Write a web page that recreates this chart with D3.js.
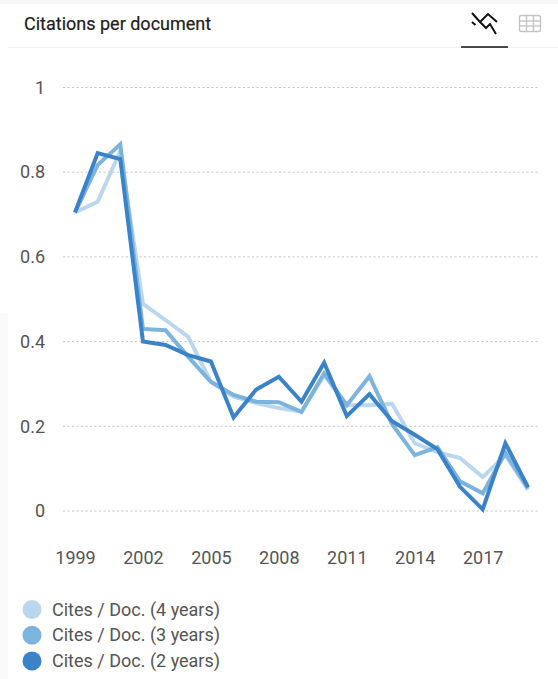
<!DOCTYPE html>
<html><head><meta charset="utf-8">
<script src="https://cdn.jsdelivr.net/npm/d3@7"></script>
<style>html,body{margin:0;padding:0;background:#fff}svg{display:block}text{font-family:Roboto,sans-serif}</style>
</head><body><svg id="c" width="558" height="679"></svg>
<script>
const years=[1999,2000,2001,2002,2003,2004,2005,2006,2007,2008,2009,2010,2011,2012,2013,2014,2015,2016,2017,2018,2019];
const xTickYears=[1999,2002,2005,2008,2011,2014,2017];
const yTicks=[0,0.2,0.4,0.6,0.8,1];
const cites4=[.705,.73,.85,.489,.451,.411,.305,.27,.255,.243,.235,.321,.25,.25,.253,.16,.139,.125,.08,.132,.05];
const cites3=[.705,.817,.866,.43,.427,.364,.305,.274,.258,.257,.234,.325,.25,.318,.205,.132,.151,.07,.042,.137,.054];
const cites2=[.705,.845,.831,.40,.392,.368,.353,.221,.287,.317,.258,.35,.224,.276,.212,.18,.146,.057,.004,.16,.056];
const seriesNames=["Cites / Doc. (4 years)","Cites / Doc. (3 years)","Cites / Doc. (2 years)"];
const seriesColors=["#bbd7f0","#7cb4dd","#3b83c9"];
const seriesValues=[cites4,cites3,cites2];

const svg=d3.select("#c");
// page chrome
svg.append("rect").attr("x",0).attr("y",0).attr("width",558).attr("height",4).attr("fill","#f7f7f7");
svg.append("rect").attr("x",0).attr("y",313).attr("width",8).attr("height",366).attr("fill","#fafafa");
svg.append("line").attr("x1",8).attr("x2",558).attr("y1",47.5).attr("y2",47.5).attr("stroke","#f0f0f0");
svg.append("text").attr("x",24).attr("y",30).attr("font-size",18).attr("font-weight",400).attr("fill","#212121").attr("stroke","#212121").attr("stroke-width",0.2).text("Citations per document");
// tab icons
svg.append("path").attr("d","M472 13l8 9 8-8 9 8M472 22l3.500 3M480 22l6 6 4-4 6 10").attr("fill","none").attr("stroke","#111").attr("stroke-width",2);
svg.append("line").attr("x1",461).attr("x2",508).attr("y1",47).attr("y2",47).attr("stroke","#111").attr("stroke-width",1.5);
const g=svg.append("g").attr("fill","none").attr("stroke","#c4c4c4").attr("stroke-width",1.4);
g.append("rect").attr("x",519.5).attr("y",15.5).attr("width",21).attr("height",16).attr("rx",2);
g.selectAll("line.v").data([526.5,533.5]).join("line").attr("x1",d=>d).attr("x2",d=>d).attr("y1",15.5).attr("y2",31.5);
g.selectAll("line.h").data([21,26]).join("line").attr("y1",d=>d).attr("y2",d=>d).attr("x1",519.5).attr("x2",540.5);

const x=d3.scaleLinear().domain([1999,2019]).range([75,528]);
const y=d3.scaleLinear().domain([0,1]).range([511,87.5]);

// grid
svg.append("g").selectAll("line").data(yTicks).join("line")
 .attr("x1",63).attr("x2",540).attr("y1",d=>y(d)).attr("y2",d=>y(d))
 .attr("stroke","#c4c4c4").attr("stroke-width",1).attr("stroke-dasharray","2 2.5");
// axes
const yAxis=d3.axisLeft(y).tickValues(yTicks).tickSize(0).tickPadding(0).tickFormat(d=>String(d));
const ya=svg.append("g").attr("transform","translate(45,0)").call(yAxis);
ya.select(".domain").remove();
ya.selectAll("text").attr("font-size",18).attr("fill","#555").attr("font-family","Roboto,sans-serif");
const xAxis=d3.axisBottom(x).tickValues(xTickYears).tickSize(0).tickPadding(0).tickFormat(d3.format("d"));
const xa=svg.append("g").attr("transform","translate(0,551)").call(xAxis);
xa.select(".domain").remove();
xa.selectAll("text").attr("font-size",18).attr("fill","#555").attr("font-family","Roboto,sans-serif");
// lines
const line=d3.line().x((d,i)=>x(years[i])).y(d=>y(d));
svg.append("g").selectAll("path").data(seriesValues).join("path")
 .attr("d",line).attr("fill","none").attr("stroke",(d,i)=>seriesColors[i]).attr("stroke-width",4).attr("stroke-linejoin","miter").attr("stroke-linecap","butt");
// legend
const ly=d3.scalePoint().domain(seriesNames).range([609.5,661]);
const lg=svg.append("g").selectAll("g").data(seriesNames).join("g").attr("transform",d=>`translate(32,${ly(d)})`);
lg.append("circle").attr("r",9.5).attr("fill",(d,i)=>seriesColors[i]);
lg.append("text").attr("x",20).attr("y",6).attr("font-size",18).attr("fill","#555").text(d=>d);
</script></body></html>
